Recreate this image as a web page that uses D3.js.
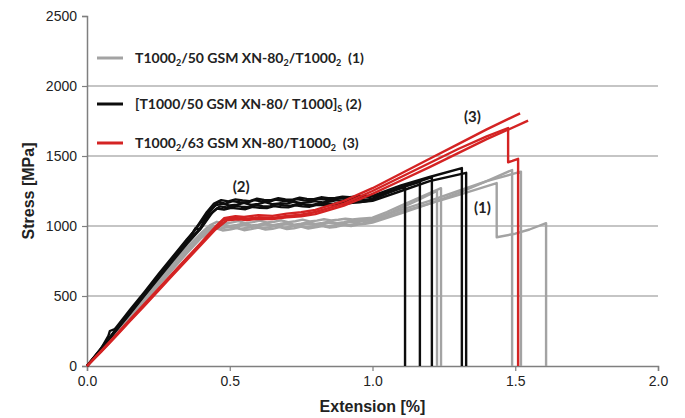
<!DOCTYPE html>
<html>
<head>
<meta charset="utf-8">
<script src="https://cdnjs.cloudflare.com/ajax/libs/d3/7.8.5/d3.min.js"></script>
<style>
  body { margin: 0; background: #fff; }
  svg text { white-space: pre; }
</style>
</head>
<body>
<div id="chart"></div>
<script>
// tick values
var xTicks = [0, 0.5, 1.0, 1.5, 2.0];
var yTicks = [0, 500, 1000, 1500, 2000, 2500];

// (1) T1000_2/50 GSM XN-80_2/T1000_2 -- [extension %, stress MPa]
var gray1 = [[0,0],[0.05,115],[0.1,240],[0.15,360],[0.2,480],[0.25,600],[0.3,715],[0.35,830],[0.4,935],[0.44,995],[0.475,1005],[0.5,990],[0.525,996],[0.55,1008],[0.575,995],[0.6,1000],[0.625,1012],[0.65,998],[0.675,1004],[0.7,1015],[0.725,1002],[0.75,1008],[0.775,1018],[0.8,1006],[0.825,1012],[0.85,1022],[0.875,1014],[0.9,1020],[0.925,1030],[0.95,1028],[0.975,1038],[1.0,1040],[1.05,1085],[1.1,1130],[1.15,1175],[1.2,1225],[1.226,1250],[1.226,0]];
var gray2 = [[0,0],[0.05,120],[0.1,245],[0.15,370],[0.2,490],[0.25,610],[0.3,730],[0.35,845],[0.4,950],[0.43,1005],[0.455,1030],[0.48,1018],[0.505,1024],[0.53,1035],[0.555,1020],[0.58,1028],[0.605,1038],[0.63,1025],[0.655,1030],[0.68,1040],[0.705,1028],[0.73,1034],[0.755,1045],[0.78,1032],[0.805,1038],[0.83,1048],[0.855,1040],[0.88,1045],[0.905,1052],[0.93,1046],[0.955,1052],[0.98,1056],[1.0,1060],[1.05,1100],[1.1,1145],[1.15,1190],[1.2,1235],[1.24,1270],[1.24,0]];
var gray3 = [[0,0],[0.05,110],[0.1,230],[0.15,345],[0.2,460],[0.25,575],[0.3,690],[0.35,805],[0.4,915],[0.45,985],[0.475,968],[0.5,975],[0.525,985],[0.55,970],[0.575,978],[0.6,988],[0.625,974],[0.65,980],[0.675,992],[0.7,978],[0.725,984],[0.75,996],[0.775,982],[0.8,990],[0.825,1000],[0.85,988],[0.875,995],[0.9,1006],[0.925,1000],[0.95,1010],[0.975,1015],[1.0,1025],[1.1,1090],[1.2,1160],[1.3,1235],[1.4,1320],[1.489,1400],[1.489,0]];
var gray4 = [[0,0],[0.05,112],[0.1,235],[0.15,352],[0.2,470],[0.25,588],[0.3,705],[0.35,820],[0.4,928],[0.45,1000],[0.475,1012],[0.5,1000],[0.525,1008],[0.55,1018],[0.575,1004],[0.6,1010],[0.625,1020],[0.65,1006],[0.675,1014],[0.7,1024],[0.725,1010],[0.75,1016],[0.775,1028],[0.8,1015],[0.825,1022],[0.85,1032],[0.875,1020],[0.9,1028],[0.925,1040],[0.95,1036],[0.975,1046],[1.0,1050],[1.1,1115],[1.2,1180],[1.3,1250],[1.4,1320],[1.52,1388],[1.52,0]];
var gray5 = [[0,0],[0.05,118],[0.1,238],[0.15,358],[0.2,478],[0.25,595],[0.3,712],[0.35,828],[0.4,938],[0.44,1000],[0.465,982],[0.49,990],[0.515,998],[0.54,980],[0.565,988],[0.59,1000],[0.615,984],[0.64,992],[0.665,1004],[0.69,988],[0.715,995],[0.74,1008],[0.765,992],[0.79,998],[0.815,1010],[0.84,996],[0.865,1004],[0.89,1015],[0.915,1005],[0.94,1015],[0.965,1018],[1.0,1035],[1.1,1100],[1.2,1160],[1.3,1220],[1.435,1307],[1.435,920],[1.5,945],[1.55,975],[1.608,1020],[1.608,0]];

// (2) [T1000/50 GSM XN-80/T1000]S
var black1 = [[0,0],[0.04,90],[0.075,215],[0.08,250],[0.095,262],[0.1,270],[0.15,400],[0.2,525],[0.25,655],[0.3,780],[0.35,905],[0.38,975],[0.4,1030],[0.43,1110],[0.45,1148],[0.475,1160],[0.5,1146],[0.525,1152],[0.55,1165],[0.575,1150],[0.6,1158],[0.625,1170],[0.65,1155],[0.675,1162],[0.7,1160],[0.725,1174],[0.75,1163],[0.775,1170],[0.8,1178],[0.825,1168],[0.85,1175],[0.875,1185],[0.9,1176],[0.925,1182],[0.95,1190],[0.975,1186],[1.0,1195],[1.05,1235],[1.114,1280],[1.114,0]];
var black2 = [[0,0],[0.05,125],[0.1,255],[0.15,385],[0.2,510],[0.25,640],[0.3,765],[0.35,890],[0.37,950],[0.38,985],[0.395,975],[0.41,1040],[0.435,1115],[0.46,1172],[0.485,1160],[0.51,1178],[0.535,1170],[0.56,1165],[0.585,1185],[0.61,1176],[0.635,1170],[0.66,1188],[0.685,1180],[0.71,1178],[0.735,1192],[0.76,1183],[0.785,1180],[0.81,1195],[0.835,1188],[0.86,1186],[0.885,1198],[0.91,1192],[0.935,1196],[0.96,1202],[1.0,1210],[1.05,1240],[1.1,1275],[1.166,1316],[1.166,0]];
var black3 = [[0,0],[0.05,122],[0.1,250],[0.15,378],[0.2,505],[0.25,632],[0.3,758],[0.35,882],[0.4,990],[0.43,1080],[0.455,1125],[0.48,1118],[0.505,1130],[0.53,1124],[0.555,1120],[0.58,1136],[0.605,1130],[0.63,1128],[0.655,1142],[0.68,1135],[0.705,1133],[0.73,1148],[0.755,1140],[0.78,1138],[0.805,1152],[0.83,1148],[0.855,1150],[0.88,1160],[0.905,1158],[0.93,1165],[0.955,1170],[0.98,1178],[1.0,1190],[1.1,1275],[1.208,1350],[1.208,0]];
var black4 = [[0,0],[0.05,128],[0.1,258],[0.15,388],[0.2,515],[0.25,645],[0.3,772],[0.35,898],[0.37,950],[0.39,1010],[0.42,1100],[0.445,1160],[0.47,1185],[0.495,1176],[0.52,1190],[0.545,1182],[0.57,1178],[0.595,1195],[0.62,1186],[0.645,1184],[0.67,1198],[0.695,1190],[0.72,1188],[0.745,1202],[0.77,1194],[0.795,1192],[0.82,1205],[0.845,1198],[0.87,1200],[0.895,1210],[0.92,1206],[0.945,1212],[0.97,1214],[1.0,1215],[1.1,1290],[1.2,1350],[1.313,1414],[1.313,0]];
var black5 = [[0,0],[0.05,120],[0.1,248],[0.15,372],[0.2,500],[0.25,625],[0.3,750],[0.35,872],[0.4,985],[0.44,1100],[0.465,1140],[0.49,1132],[0.515,1145],[0.54,1138],[0.565,1135],[0.59,1150],[0.615,1142],[0.64,1140],[0.665,1155],[0.69,1147],[0.715,1145],[0.74,1160],[0.765,1152],[0.79,1150],[0.815,1164],[0.84,1158],[0.865,1160],[0.89,1168],[0.915,1165],[0.94,1175],[0.965,1172],[1.0,1180],[1.1,1250],[1.2,1320],[1.328,1380],[1.328,0]];

// (3) T1000_2/63 GSM XN-80/T1000_2
var red1 = [[0,0],[0.05,105],[0.1,215],[0.15,325],[0.2,435],[0.25,545],[0.3,655],[0.35,765],[0.4,875],[0.45,985],[0.48,1045],[0.52,1058],[0.55,1050],[0.6,1062],[0.65,1058],[0.7,1072],[0.75,1080],[0.8,1100],[0.9,1160],[1.0,1250],[1.1,1350],[1.2,1450],[1.3,1550],[1.4,1640],[1.475,1700],[1.475,1455],[1.49,1465],[1.51,1480],[1.51,0]];
var red2 = [[0,0],[0.05,108],[0.1,218],[0.15,330],[0.2,440],[0.25,552],[0.3,662],[0.35,772],[0.4,882],[0.45,995],[0.48,1055],[0.52,1070],[0.55,1064],[0.6,1078],[0.65,1072],[0.7,1088],[0.75,1098],[0.8,1115],[0.9,1180],[1.0,1270],[1.1,1375],[1.2,1480],[1.3,1585],[1.4,1690],[1.517,1805]];
var red3 = [[0,0],[0.05,102],[0.1,210],[0.15,320],[0.2,428],[0.25,538],[0.3,648],[0.35,758],[0.4,866],[0.45,975],[0.49,1040],[0.53,1048],[0.56,1042],[0.6,1052],[0.65,1050],[0.7,1062],[0.75,1070],[0.8,1085],[0.9,1145],[1.0,1230],[1.1,1325],[1.2,1420],[1.3,1520],[1.4,1620],[1.545,1752]];

var seriesNames = [
  [["T1000",0],["2",1],["/50 GSM XN-80",0],["2",1],["/T1000",0],["2",1],["  (1)",0]],
  [["[T1000/50 GSM XN-80/ T1000]",0],["S",1],[" (2)",0]],
  [["T1000",0],["2",1],["/63 GSM XN-80/T1000",0],["2",1],["  (3)",0]]
];
var seriesColors = ["#a3a3a3", "#0d0d0d", "#d42323"];
var seriesCurves = [[gray1, gray2, gray3, gray4, gray5], [black1, black2, black3, black4, black5], [red1, red2, red3]];

var notes = [["(2)", 0.54, 1280], ["(3)", 1.35, 1780], ["(1)", 1.385, 1130]];

var width = 685, height = 418;
var margin = {left: 87, right: 27, top: 16, bottom: 52};

var svg = d3.select("#chart").append("svg")
  .attr("width", width).attr("height", height);

var x = d3.scaleLinear().domain([0, 2]).range([margin.left, width - margin.right]);
var y = d3.scaleLinear().domain([0, 2500]).range([height - margin.bottom, margin.top]);

var axisFont = "Arial, 'Liberation Sans', sans-serif";
var labelFont = "Lato, 'Open Sans', sans-serif";

// grid
svg.append("g").selectAll("line")
  .data(yTicks.filter(function (d) { return d > 0 && d < 2500; }))
  .enter().append("line")
  .attr("x1", x(0)).attr("x2", x(2))
  .attr("y1", function (d) { return y(d); }).attr("y2", function (d) { return y(d); })
  .attr("stroke", "#8c8c8c").attr("stroke-width", 1.2);

var yAxis = svg.append("g")
  .attr("transform", "translate(" + x(0) + ",0)")
  .call(d3.axisLeft(y).tickValues(yTicks).tickFormat(d3.format("d")).tickSize(5).tickPadding(5));
var xAxis = svg.append("g")
  .attr("transform", "translate(0," + y(0) + ")")
  .call(d3.axisBottom(x).tickValues(xTicks).tickFormat(d3.format(".1f")).tickSize(5).tickPadding(5));

[xAxis, yAxis].forEach(function (g) {
  g.attr("font-family", axisFont).attr("font-size", 14);
  g.select(".domain").attr("stroke", "#7f7f7f").attr("stroke-width", 1.5);
  g.selectAll(".tick line").attr("stroke", "#7f7f7f").attr("stroke-width", 1.2);
  g.selectAll("text").attr("fill", "#222");
});

// curves
var line = d3.line()
  .x(function (d) { return x(d[0]); })
  .y(function (d) { return y(d[1]); });

seriesCurves.forEach(function (curves, i) {
  svg.append("g").selectAll("path")
    .data(curves)
    .enter().append("path")
    .attr("d", line)
    .attr("fill", "none")
    .attr("stroke", seriesColors[i])
    .attr("stroke-width", 2.4)
    .attr("stroke-linejoin", "round");
});

// legend
var legendY = [58, 104, 143];
var legend = svg.append("g");
seriesNames.forEach(function (parts, i) {
  legend.append("line")
    .attr("x1", 97).attr("x2", 123)
    .attr("y1", legendY[i]).attr("y2", legendY[i])
    .attr("stroke", seriesColors[i]).attr("stroke-width", 3);
  var t = legend.append("text")
    .attr("x", 135).attr("y", legendY[i] + 5)
    .attr("font-family", labelFont)
    .attr("font-weight", "bold").attr("font-size", 14)
    .attr("fill", "#222");
  var shifted = false;
  parts.forEach(function (p) {
    var s = t.append("tspan").text(p[0]);
    if (p[1] && !shifted) { s.attr("dy", 3).attr("font-size", 9); shifted = true; }
    else if (p[1]) { s.attr("font-size", 9); }
    else if (shifted) { s.attr("dy", -3); shifted = false; }
  });
});

// annotations
svg.append("g").selectAll("text")
  .data(notes)
  .enter().append("text")
  .attr("x", function (d) { return x(d[1]); })
  .attr("y", function (d) { return y(d[2]); })
  .attr("text-anchor", "middle")
  .attr("dy", "0.35em")
  .attr("font-family", labelFont)
  .attr("font-weight", "bold").attr("font-size", 15)
  .attr("fill", "#222")
  .text(function (d) { return d[0]; });

// axis titles
svg.append("text")
  .attr("x", (x(0) + x(2)) / 2).attr("y", 412)
  .attr("text-anchor", "middle")
  .attr("font-family", axisFont)
  .attr("font-weight", "bold").attr("font-size", 16)
  .attr("fill", "#222")
  .text("Extension [%]");

svg.append("text")
  .attr("transform", "translate(34," + y(1250) + ") rotate(-90)")
  .attr("text-anchor", "middle")
  .attr("font-family", axisFont)
  .attr("font-weight", "bold").attr("font-size", 16)
  .attr("fill", "#222")
  .text("Stress [MPa]");
</script>
</body>
</html>
